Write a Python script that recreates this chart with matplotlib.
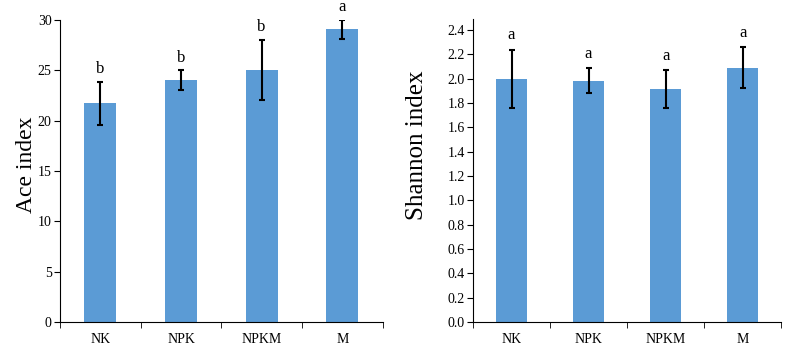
import numpy as np
import matplotlib.pyplot as plt
from matplotlib.ticker import FixedLocator, FormatStrFormatter

plt.rcParams['font.family'] = ['Liberation Serif', 'DejaVu Serif']

groups = ["NK", "NPK", "NPKM", "M"]
ace = [21.7, 24.0, 25.05, 29.05]
ace_err = [2.15, 1.0, 3.0, 0.95]
ace_letters = ["b", "b", "b", "a"]
shannon = [2.00, 1.985, 1.915, 2.09]
shannon_err = [0.24, 0.10, 0.155, 0.17]
shannon_letters = ["a", "a", "a", "a"]

bar_color = "#5B9BD5"

fig = plt.figure(figsize=(7.89, 3.55), dpi=100)
ax1 = fig.add_axes([0.076, 0.093, 0.409, 0.851])
ax2 = fig.add_axes([0.5995, 0.093, 0.3905, 0.853])


def draw(ax, vals, errs, letters, ylim, ticks, ylabel, fmt, off,
         lsize, lpos):
    x = np.arange(len(groups))
    ax.bar(x, vals, width=0.4, color=bar_color, zorder=2)
    ax.errorbar(x, vals, yerr=errs, fmt="none", ecolor="black",
                elinewidth=1.5, capsize=2, capthick=1.5, zorder=3)
    for xi, v, e, t in zip(x, vals, errs, letters):
        ax.text(xi, v + e + off, t, ha="center", va="bottom", fontsize=12,
                clip_on=False)
    ax.set_xlim(-0.5, len(groups) - 0.5)
    ax.set_ylim(*ylim)
    ax.set_yticks(ticks)
    ax.yaxis.set_major_formatter(FormatStrFormatter(fmt))
    ax.set_xticks(x)
    ax.set_xticklabels(groups, fontsize=10)
    ax.xaxis.set_minor_locator(FixedLocator(np.arange(-0.5, len(groups), 1.0)))
    ax.tick_params(axis="x", which="major", length=0, pad=8)
    ax.tick_params(axis="x", which="minor", length=4, direction="out")
    ax.tick_params(axis="y", length=4, direction="out", labelsize=10, pad=2)
    ax.spines["top"].set_visible(False)
    ax.spines["right"].set_visible(False)
    ax.set_ylabel(ylabel, fontsize=lsize)
    ax.yaxis.set_label_coords(*lpos)


draw(ax1, ace, ace_err, ace_letters, (0, 30), np.arange(0, 31, 5),
     "Ace index", "%d", 0.45, 17, (-0.072, 0.52))
draw(ax2, shannon, shannon_err, shannon_letters, (0, 2.49),
     np.arange(0, 2.41, 0.2), "Shannon index", "%.1f", 0.05, 18,
     (-0.146, 0.584))

fig.savefig("out.png", dpi=100)
